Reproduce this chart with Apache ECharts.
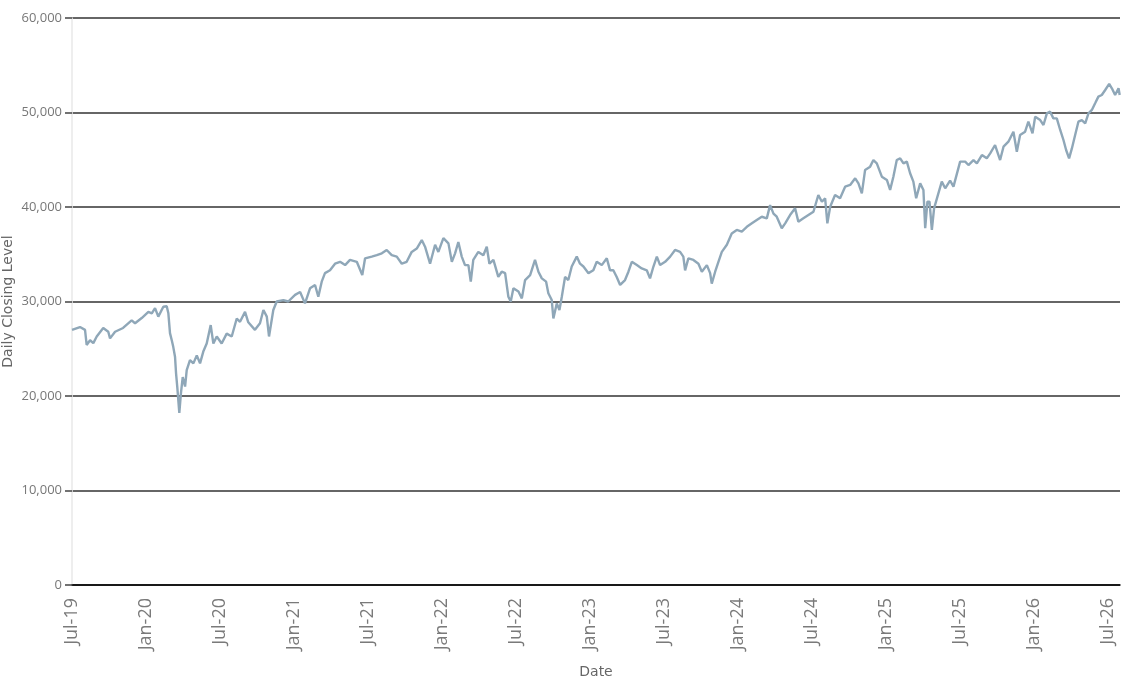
<!DOCTYPE html>
<html>
<head>
<meta charset="utf-8">
<title>Daily Closing Level</title>
<script src="https://cdn.jsdelivr.net/npm/echarts@6/dist/echarts.min.js"></script>
<style>
  html, body { margin: 0; padding: 0; background: #fff; }
  #chart { width: 1128px; height: 686px; }
</style>
</head>
<body>
<div id="chart"></div>
<script>
// time as decimal years (2019.5 = Jul-19)
var dates = [
  2019.500, 2019.554, 2019.588, 2019.599, 2019.622, 2019.644, 2019.667, 2019.711, 2019.745, 2019.757,
  2019.791, 2019.845, 2019.903, 2019.926, 2019.971, 2020.016, 2020.039, 2020.061, 2020.083, 2020.117,
  2020.140, 2020.151, 2020.162, 2020.174, 2020.184, 2020.196, 2020.203, 2020.211, 2020.225, 2020.236,
  2020.248, 2020.264, 2020.275, 2020.297, 2020.320, 2020.343, 2020.365, 2020.387, 2020.410, 2020.437,
  2020.455, 2020.478, 2020.511, 2020.545, 2020.579, 2020.613, 2020.635, 2020.669, 2020.691,
  2020.736, 2020.770, 2020.793, 2020.816, 2020.831, 2020.860, 2020.883, 2020.928, 2020.961, 2021.007,
  2021.041, 2021.074, 2021.108, 2021.142, 2021.164, 2021.187, 2021.209, 2021.243, 2021.277, 2021.311,
  2021.345, 2021.378, 2021.424, 2021.461, 2021.480, 2021.525, 2021.559, 2021.593, 2021.626, 2021.660,
  2021.694, 2021.728, 2021.761, 2021.795, 2021.829, 2021.863,
  2021.885, 2021.919, 2021.953, 2021.975, 2022.009, 2022.043, 2022.066, 2022.088, 2022.110, 2022.133,
  2022.155, 2022.178, 2022.194, 2022.211, 2022.245, 2022.279, 2022.302, 2022.320, 2022.347, 2022.380,
  2022.403, 2022.426, 2022.448, 2022.464, 2022.482, 2022.516, 2022.539, 2022.561, 2022.595, 2022.628,
  2022.651, 2022.674, 2022.703, 2022.718, 2022.741, 2022.752, 2022.775, 2022.793, 2022.809, 2022.831,
  2022.853, 2022.876, 2022.910, 2022.932, 2022.955, 2022.989, 2023.022, 2023.045,
  2023.079, 2023.113, 2023.135, 2023.157, 2023.180, 2023.203, 2023.236, 2023.259, 2023.282, 2023.316,
  2023.349, 2023.383, 2023.405, 2023.428, 2023.451, 2023.473, 2023.507, 2023.541, 2023.574, 2023.608,
  2023.630, 2023.642, 2023.664, 2023.698, 2023.732, 2023.755, 2023.789, 2023.811, 2023.822, 2023.845,
  2023.867, 2023.890, 2023.924, 2023.957, 2023.991, 2024.025, 2024.059, 2024.093, 2024.126, 2024.160,
  2024.194, 2024.216, 2024.239,
  2024.261, 2024.295, 2024.318, 2024.351, 2024.385, 2024.407, 2024.441, 2024.475, 2024.509, 2024.542,
  2024.566, 2024.588, 2024.603, 2024.622, 2024.655, 2024.689, 2024.723, 2024.757, 2024.791, 2024.813,
  2024.836, 2024.858, 2024.892, 2024.914, 2024.937, 2024.971, 2025.005, 2025.027, 2025.049, 2025.072,
  2025.095, 2025.117, 2025.140, 2025.162, 2025.184, 2025.203, 2025.230, 2025.252, 2025.264, 2025.279,
  2025.293, 2025.309, 2025.324, 2025.353, 2025.376, 2025.399, 2025.432,
  2025.455, 2025.500, 2025.534, 2025.556, 2025.590, 2025.613, 2025.647, 2025.680, 2025.703, 2025.736,
  2025.770, 2025.793, 2025.826, 2025.860, 2025.883, 2025.905, 2025.939, 2025.961, 2025.989, 2026.007,
  2026.041, 2026.063, 2026.086, 2026.108, 2026.130, 2026.153, 2026.176, 2026.198, 2026.216, 2026.236,
  2026.255, 2026.277, 2026.299, 2026.322, 2026.345, 2026.367, 2026.390, 2026.412, 2026.434, 2026.457,
  2026.480, 2026.507, 2026.525, 2026.547, 2026.570, 2026.578
];

var closes = [
  27000, 27300, 27000, 25400, 25900, 25600, 26300, 27200, 26800, 26100,
  26800, 27200, 28000, 27700, 28250, 28900, 28750, 29300, 28400, 29450,
  29500, 28750, 26650, 25900, 25200, 24150, 22400, 21000, 18200, 20300,
  22000, 21000, 22750, 23800, 23450, 24300, 23450, 24700, 25550, 27500,
  25550, 26300, 25550, 26600, 26300, 28200, 27850, 28900, 27800,
  27000, 27700, 29100, 28400, 26300, 29100, 30000, 30150, 30000, 30700,
  31000, 29800, 31400, 31750, 30500, 32100, 33000, 33300, 34000, 34200,
  33850, 34400, 34200, 32800, 34570, 34750, 34900, 35100, 35450, 34900,
  34750, 34000, 34200, 35250, 35600, 36500,
  35800, 34000, 36000, 35250, 36700, 36150, 34200, 35100, 36300, 34750,
  33850, 33850, 32100, 34400, 35250, 34900, 35800, 34000, 34400, 32600,
  33150, 33000, 30500, 30000, 31400, 31050, 30330, 32270, 32800, 34400,
  33150, 32450, 32100, 30870, 30150, 28200, 29800, 29100, 30500, 32600,
  32270, 33700, 34750, 34000, 33700, 33000, 33300, 34200,
  33850, 34570, 33300, 33300, 32600, 31750, 32270, 33150, 34200, 33850,
  33500, 33300, 32450, 33700, 34750, 33850, 34200, 34750, 35450, 35250,
  34750, 33300, 34570, 34400, 34000, 33150, 33850, 33000, 31900, 33150,
  34200, 35250, 36000, 37200, 37570, 37400, 37900, 38270, 38620, 38970,
  38800, 40200, 39300,
  38970, 37750, 38270, 39150, 39860, 38450, 38800, 39150, 39500, 41270,
  40560, 40920, 38270, 40030, 41270, 40920, 42150, 42330, 43040, 42500,
  41450, 43920, 44270, 44970, 44620, 43210, 42860, 41800, 43210, 44970,
  45150, 44620, 44800, 43570, 42680, 40920, 42500, 41800, 37750, 40560,
  40560, 37570, 39860, 41450, 42680, 41980, 42800,
  42150, 44800, 44800, 44440, 44970, 44620, 45500, 45150, 45680, 46560,
  44970, 46380, 46910, 47970, 45850, 47620, 47970, 49030, 47800, 49560,
  49200, 48680, 49910, 50090, 49380, 49380, 48150, 47090, 46030, 45150,
  46200, 47620, 49030, 49200, 48850, 49910, 50270, 50970, 51680, 51850,
  52380, 53020, 52560, 51850, 52560, 51850
];

var xTickLabels = ['Jul-19', 'Jan-20', 'Jul-20', 'Jan-21', 'Jul-21', 'Jan-22', 'Jul-22', 'Jan-23',
  'Jul-23', 'Jan-24', 'Jul-24', 'Jan-25', 'Jul-25', 'Jan-26', 'Jul-26'];

var xStart = 2019.5;
var xEnd = 2026.58;

var seriesData = dates.map(function (d, i) { return [d, closes[i]]; });

var chart = echarts.init(document.getElementById('chart'), null, { renderer: 'canvas' });

var option = {
  backgroundColor: '#ffffff',
  animation: false,
  grid: { left: 72, right: 8, top: 18, bottom: 101, containLabel: false, outerBoundsMode: 'none' },
  xAxis: {
    type: 'value',
    min: xStart,
    max: xEnd,
    interval: 0.5,
    name: 'Date',
    nameLocation: 'middle',
    nameGap: 80,
    nameMoveOverlap: false,
    nameTextStyle: { color: '#666', fontSize: 14, fontFamily: 'DejaVu Sans' },
    axisLine: { show: true, onZero: false, lineStyle: { color: '#000', width: 1.5 } },
    axisTick: { show: false },
    splitLine: { show: false },
    axisLabel: {
      rotate: 90,
      margin: 13,
      color: '#7a7a7a',
      fontSize: 18,
      fontFamily: 'Open Sans',
      showMaxLabel: false,
      formatter: function (v) {
        var k = Math.round((v - xStart) / 0.5);
        if (Math.abs(v - (xStart + k * 0.5)) > 0.001) return '';
        return xTickLabels[k] || '';
      }
    }
  },
  yAxis: {
    type: 'value',
    min: 0,
    max: 60000,
    interval: 10000,
    name: 'Daily Closing Level',
    nameLocation: 'middle',
    nameRotate: 90,
    nameGap: 57,
    nameMoveOverlap: false,
    nameTextStyle: { color: '#666', fontSize: 14, fontFamily: 'DejaVu Sans' },
    axisLine: { show: true, lineStyle: { color: '#e8e8e8', width: 1.5 } },
    axisTick: { show: true, length: 7, lineStyle: { color: '#444', width: 1.5 } },
    splitLine: { show: true, lineStyle: { color: '#333', width: 1.5 } },
    axisLabel: {
      color: '#777',
      fontSize: 13,
      fontFamily: 'Open Sans',
      margin: 10,
      formatter: function (v) { return v.toLocaleString('en-US'); }
    }
  },
  series: [{
    type: 'line',
    data: seriesData,
    showSymbol: false,
    smooth: false,
    lineStyle: { color: '#8fa7b8', width: 2.4 },
    itemStyle: { color: '#8fa7b8' }
  }]
};

chart.setOption(option);
</script>
</body>
</html>
